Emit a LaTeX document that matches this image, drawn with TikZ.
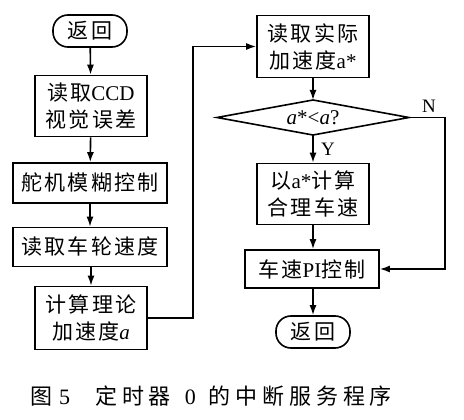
\documentclass[tikz,border=0pt]{standalone}
\usepackage{fontspec}
\setmainfont{Liberation Serif}
\newfontfamily\cjk[LetterSpace=10]{Noto Sans CJK SC}
\newfontfamily\cjkcap[LetterSpace=22]{Noto Sans CJK SC}
\usetikzlibrary{arrows.meta}
\begin{document}
\begin{tikzpicture}[x=1pt,y=-1pt,
  box/.style={draw,line width=1.6pt,inner sep=0pt,align=center,font=\fontsize{21}{27}\selectfont},
  term/.style={box,rounded corners=15pt,minimum width=74pt,minimum height=32pt},
  arr/.style={line width=1.6pt,-{Latex[length=10pt,width=7pt]}},
  lbl/.style={inner sep=0pt,font=\fontsize{19}{22}\selectfont},
]
\useasboundingbox (0,0) rectangle (464,420);
% left column
\node[term] (t1) at (90,31) {\cjk 返回};
\node[box,minimum width=112pt,minimum height=61pt] (b2) at (91,106) {{\cjk 读取}CCD\\{\cjk 视觉误差}};
\node[box,minimum width=154pt,minimum height=40pt] (b3) at (90,183) {\cjk 舵机模糊控制};
\node[box,minimum width=154pt,minimum height=39pt] (b4) at (90,247) {\cjk 读取车轮速度};
\node[box,minimum width=112pt,minimum height=63pt] (b5) at (91,318) {{\cjk 计算理论}\\{\cjk 加速度}\textit{a}};
% right column
\node[box,minimum width=112pt,minimum height=62pt] (r1) at (313,46.5) {{\cjk 读取实际}\\{\cjk 加速度}a*};
\coordinate (dc) at (313,117.5);
\coordinate (dt) at (313,100);
\coordinate (db) at (313,135);
\coordinate (dl) at (217,117.5);
\coordinate (dr) at (409,117.5);
\draw[line width=1.6pt,line join=miter] (dt) -- (dr) -- (db) -- (dl) -- cycle;
\node[inner sep=0pt,font=\fontsize{21}{27}\selectfont] (d) at (dc) {\textit{a}*<\textit{a}?};
\node[box,minimum width=112pt,minimum height=61pt] (r3) at (313,194) {{\cjk 以}a*{\cjk 计算}\\{\cjk 合理车速}};
\node[box,minimum width=134pt,minimum height=38pt] (r4) at (312,269) {{\cjk 车速}PI{\cjk 控制}};
\node[term] (t2) at (313,332) {\cjk 返回};
\node[lbl] (ly) at (328,149) {Y};
\node[lbl] (ln) at (429,106) {N};
\coordinate (c1) at (193,46.5);
\coordinate (c2) at (445,117.5);
% connectors
\draw[arr] (t1) -- (b2);
\draw[arr] (b2) -- (b3);
\draw[arr] (b3) -- (b4);
\draw[arr] (b4.south -| b5.north) -- (b5);
\draw[arr] (b5.east) -| (c1) -- (r1.west);
\draw[arr] (r1) -- (dt);
\draw[arr] (db) -- (r3);
\draw[arr] (r3.south) -- (r3.south |- r4.north);
\draw[arr] (dr) -- (c2) |- (r4.east);
\draw[arr] (r4.south -| t2.north) -- (t2);
% caption
\node[inner sep=0pt,anchor=west,font=\fontsize{22}{26}\selectfont] (cap) at (30,396) {{\cjkcap 图}\hspace{7pt}5\hspace{25pt}{\cjkcap 定时器}\hspace{14pt}0\hspace{13pt}{\cjkcap 的中断服务程序}};
\end{tikzpicture}
\end{document}
